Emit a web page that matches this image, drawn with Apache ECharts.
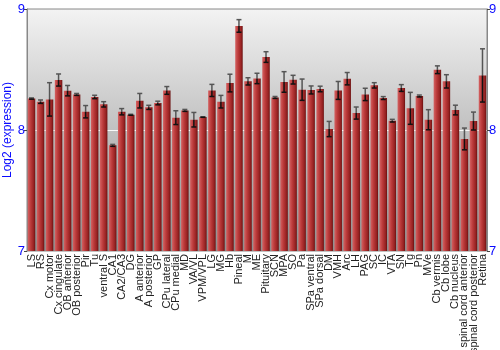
<!DOCTYPE html>
<html>
<head>
<meta charset="utf-8">
<script src="https://cdn.jsdelivr.net/npm/echarts@6/dist/echarts.min.js"></script>
<style>html,body{margin:0;padding:0;background:#fff;}#c{width:500px;height:350px;}</style>
</head>
<body>
<div id="c"></div>
<script>
var categories = ["LS","RS","Cx motor","Cx cingulate","OB anterior","OB posterior","Pir","Tu","ventral S","CA1","CA2/CA3","DG","A anterior","A posterior","GP","CPu lateral","CPu medial","MD","VA/VL","VPM/VPL","LG","MG","Hb","Pineal","M","ME","Pituitary","SCN","MPA","SO","Pa","SPa ventral","SPa dorsal","DM","VMH","Arc","LH","PAG","SC","IC","VTA","SN","Tg","Pn","MVe","Cb vermis","Cb lobe","Cb nucleus","spinal cord anterior","spinal cord posterior","Retina"];
var values = [8.26,8.234,8.253,8.413,8.325,8.294,8.151,8.273,8.212,7.873,8.151,8.126,8.242,8.187,8.223,8.327,8.102,8.162,8.085,8.107,8.327,8.234,8.388,8.860,8.402,8.426,8.603,8.269,8.397,8.416,8.333,8.331,8.339,8.008,8.327,8.424,8.140,8.294,8.369,8.264,8.077,8.347,8.179,8.281,8.085,8.498,8.402,8.165,7.926,8.074,8.451];
var errors = [0.005,0.014,0.138,0.05,0.043,0.008,0.051,0.014,0.022,0.008,0.026,0.004,0.06,0.017,0.015,0.032,0.057,0.008,0.06,0.002,0.05,0.052,0.073,0.052,0.03,0.043,0.044,0.008,0.085,0.036,0.088,0.033,0.023,0.063,0.074,0.051,0.05,0.051,0.022,0.012,0.011,0.028,0.132,0.008,0.083,0.032,0.055,0.04,0.09,0.074,0.22];
var yTicks = [7, 8, 9];

var chart = echarts.init(document.getElementById('c'), null, {renderer: 'canvas'});
var errData = values.map(function (v, i) { return [i, v, errors[i]]; });

var yAxisCommon = {
  type: 'value', min: yTicks[0], max: yTicks[yTicks.length - 1], interval: 1,
  axisLine: {show: true, lineStyle: {color: '#888', width: 1}},
  axisTick: {show: true, length: 3, lineStyle: {color: '#444'}},
  axisLabel: {color: '#0a0aff', fontSize: 13, fontFamily: 'Liberation Sans', margin: 2}
};

chart.setOption({
  animation: false,
  grid: {
    left: 27, right: 13, top: 9, bottom: 99,
    containLabel: false, outerBoundsMode: 'none',
    show: true, borderWidth: 1, borderColor: '#888',
    backgroundColor: {type: 'linear', x: 0, y: 0, x2: 0, y2: 1,
      colorStops: [{offset: 0, color: '#f3f3f3'}, {offset: 1, color: '#8e8e8e'}]}
  },
  xAxis: {
    type: 'category', data: categories,
    axisLine: {show: false}, axisTick: {show: false},
    axisLabel: {rotate: 90, interval: 0, fontSize: 11, color: '#222', fontFamily: 'Liberation Sans', margin: 3}
  },
  yAxis: [
    Object.assign({}, yAxisCommon, {
      position: 'left',
      name: 'Log2 (expression)', nameLocation: 'middle', nameGap: 13, nameMoveOverlap: false,
      nameTextStyle: {color: '#0a0aff', fontSize: 12, fontFamily: 'Liberation Sans'},
      splitLine: {show: true, lineStyle: {color: ['rgba(0,0,0,0)', 'rgba(255,255,255,0.9)', 'rgba(0,0,0,0)'], width: 1}}
    }),
    Object.assign({}, yAxisCommon, {position: 'right', splitLine: {show: false}})
  ],
  series: [
    {
      type: 'bar', data: values, barCategoryGap: '17%',
      itemStyle: {
        color: {type: 'linear', x: 0, y: 0, x2: 1, y2: 0,
          colorStops: [
            {offset: 0, color: '#d46262'},
            {offset: 0.4, color: '#bb3a3a'},
            {offset: 0.8, color: '#962222'},
            {offset: 1, color: '#6a1010'}
          ]}
      }
    },
    {
      type: 'custom', data: errData, z: 10,
      renderItem: function (params, api) {
        var i = api.value(0), v = api.value(1), e = api.value(2);
        var top = api.coord([i, v + e]);
        var mid = api.coord([i, v]);
        var bot = api.coord([i, v - e]);
        var x = top[0], hw = 2.5;
        return {
          type: 'group',
          children: [
            {type: 'line', shape: {x1: x, y1: top[1], x2: x, y2: mid[1]}, style: {stroke: '#555', lineWidth: 1.5}},
            {type: 'line', shape: {x1: x, y1: mid[1], x2: x, y2: bot[1]}, style: {stroke: '#111', lineWidth: 1.5}},
            {type: 'line', shape: {x1: x - hw, y1: top[1], x2: x + hw, y2: top[1]}, style: {stroke: '#555', lineWidth: 1.5}},
            {type: 'line', shape: {x1: x - hw, y1: bot[1], x2: x + hw, y2: bot[1]}, style: {stroke: '#111', lineWidth: 1.5}}
          ]
        };
      }
    }
  ]
});
</script>
</body>
</html>
